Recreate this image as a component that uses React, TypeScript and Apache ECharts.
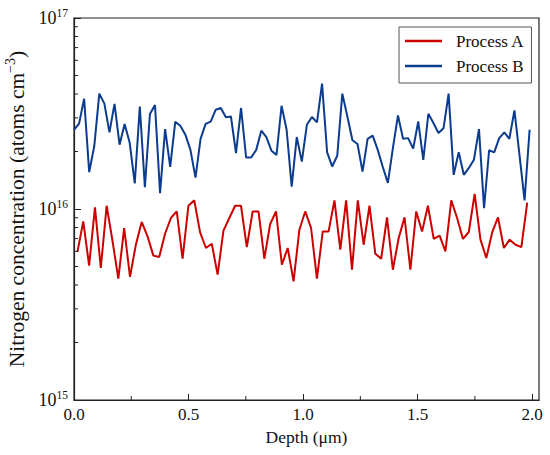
import React, { useEffect, useRef } from "react";
import * as echarts from "echarts";

// Process A (red) – nitrogen concentration, atoms cm^-3
const PROCESS_A = [
  5.96e15, 8.61e15, 5.05e15, 1.02e16, 4.91e15, 1.04e16, 6.82e15, 4.32e15, 7.95e15, 4.41e15,
  6.5e15, 8.55e15, 7.19e15, 5.7e15, 5.61e15, 7.42e15, 8.97e15, 9.71e15, 5.49e15, 1.04e16,
  1.11e16, 7.54e15, 6.25e15, 6.58e15, 4.53e15, 7.7e15, 8.97e15, 1.04e16, 1.04e16, 6.32e15,
  9.71e15, 9.71e15, 5.49e15, 8.35e15, 9.71e15, 5.11e15, 6.25e15, 4.18e15, 7.79e15, 9.71e15,
  7.95e15, 4.32e15, 7.63e15, 7.63e15, 1.11e16, 6.12e15, 1.11e16, 4.81e15, 1.11e16, 6.5e15,
  1.04e16, 5.83e15, 5.49e15, 9.04e15, 4.81e15, 7.05e15, 9.04e15, 4.81e15, 9.71e15, 7.63e15,
  1.04e16, 6.97e15, 7.25e15, 6.0e15, 1.11e16, 8.97e15, 6.97e15, 7.58e15, 1.2e16, 6.91e15,
  5.54e15, 7.54e15, 9.04e15, 6.25e15, 6.91e15, 6.5e15, 6.32e15, 1.08e16,
];

// Process B (blue)
const PROCESS_B = [
  2.6e16, 2.8e16, 3.78e16, 1.56e16, 2.13e16, 4.02e16, 3.56e16, 2.52e16, 3.55e16, 2.17e16,
  2.79e16, 2.22e16, 1.36e16, 3.44e16, 1.3e16, 3.14e16, 3.5e16, 1.21e16, 2.62e16, 1.66e16,
  2.86e16, 2.73e16, 2.45e16, 2.04e16, 1.46e16, 2.33e16, 2.79e16, 2.87e16, 3.31e16, 3.38e16,
  3.02e16, 3.05e16, 1.96e16, 3.38e16, 1.86e16, 1.86e16, 2.04e16, 2.57e16, 2.38e16, 2.02e16,
  1.92e16, 3.47e16, 2.6e16, 1.31e16, 2.38e16, 1.77e16, 2.76e16, 3.03e16, 2.84e16, 4.53e16,
  1.98e16, 1.67e16, 1.9e16, 4.02e16, 3.05e16, 2.29e16, 2.19e16, 1.57e16, 2.33e16, 2.42e16,
  2.04e16, 1.66e16, 1.37e16, 2.09e16, 3.09e16, 2.33e16, 2.35e16, 2.07e16, 2.87e16, 1.81e16,
  3.15e16, 2.82e16, 2.5e16, 2.65e16, 4.02e16, 1.51e16, 1.98e16, 1.51e16, 1.64e16, 1.81e16,
  2.62e16, 1.01e16, 2.03e16, 1.98e16, 2.35e16, 2.52e16, 2.33e16, 3.28e16, 1.92e16, 1.11e16,
  2.6e16,
];

// depth sampling (µm): start and spacing of each measurement grid
const DEPTH_A_START = 0.015;
const DEPTH_A_STEP = 0.0255;
const DEPTH_B_START = 0.0;
const DEPTH_B_STEP = 0.0221;

const X_TICKS = [0, 0.5, 1.0, 1.5, 2.0];
const X_MINOR = [0.25, 0.75, 1.25, 1.75];
const Y_TICKS = [1e15, 1e16, 1e17];
const Y_MINOR = [
  2e15, 3e15, 4e15, 5e15, 6e15, 7e15, 8e15, 9e15,
  2e16, 3e16, 4e16, 5e16, 6e16, 7e16, 8e16, 9e16,
];
const X_MIN = 0;
const X_MAX = 2.03;
const Y_MIN = 1e15;
const Y_MAX = 1e17;

const FONT = "Liberation Serif";
const AXIS_COLOR = "#222";
const TEXT_COLOR = "#111";

export default function App() {
  const ref = useRef<HTMLDivElement>(null);

  useEffect(() => {
    if (!ref.current) return;
    const chart = echarts.init(ref.current, null, { renderer: "svg" });

    const dataA = PROCESS_A.map((v, i) => [DEPTH_A_START + i * DEPTH_A_STEP, v]);
    const dataB = PROCESS_B.map((v, i) => [DEPTH_B_START + i * DEPTH_B_STEP, v]);

    const option = {
      animation: false,
      backgroundColor: "#fff",
      textStyle: { fontFamily: FONT },
      grid: {
        left: 74,
        right: 11,
        top: 18,
        bottom: 55,
        show: true,
        containLabel: false,
        outerBoundsMode: "none",
        borderColor: AXIS_COLOR,
        borderWidth: 1.2,
        backgroundColor: "transparent",
      },
      legend: {
        left: 399,
        top: 27,
        orient: "vertical",
        data: ["Process A", "Process B"],
        icon: "rect",
        itemWidth: 37,
        itemHeight: 2.5,
        itemGap: 5,
        padding: [4, 7, 7, 6],
        borderColor: "#555",
        borderWidth: 1,
        backgroundColor: "#fff",
        textStyle: {
          fontFamily: FONT,
          fontSize: 17,
          color: TEXT_COLOR,
          lineHeight: 20,
          padding: [0, 0, 0, 9],
        },
      },
      xAxis: {
        type: "value",
        min: X_MIN,
        max: X_MAX,
        axisLine: { show: true, lineStyle: { color: AXIS_COLOR, width: 1.2 } },
        axisTick: {
          show: true,
          inside: true,
          length: 6,
          customValues: X_TICKS,
          lineStyle: { color: AXIS_COLOR, width: 1 },
        },
        axisLabel: {
          customValues: X_TICKS,
          formatter: (v: number) => v.toFixed(1),
          fontFamily: FONT,
          fontSize: 17,
          color: TEXT_COLOR,
          margin: 6,
        },
        splitLine: { show: false },
        name: "Depth (μm)",
        nameLocation: "middle",
        nameGap: 27,
        nameTextStyle: { fontFamily: FONT, fontSize: 17.5, color: TEXT_COLOR },
      },
      yAxis: {
        type: "log",
        logBase: 10,
        min: Y_MIN,
        max: Y_MAX,
        axisLine: { show: true, lineStyle: { color: AXIS_COLOR, width: 1.2 } },
        axisTick: {
          show: true,
          inside: true,
          length: 7,
          customValues: Y_TICKS,
          lineStyle: { color: AXIS_COLOR, width: 1 },
        },
        axisLabel: {
          customValues: Y_TICKS,
          formatter: (v: number) => `{b|10}{s|${Math.round(Math.log10(v))}}`,
          margin: 6,
          rich: {
            b: { fontFamily: FONT, fontSize: 18, color: TEXT_COLOR },
            s: { fontFamily: FONT, fontSize: 11.5, color: TEXT_COLOR, padding: [0, 0, 10, 0] },
          },
        },
        splitLine: { show: false },
        name: "Nitrogen concentration (atoms cm{s|−3})",
        nameLocation: "middle",
        nameGap: 43,
        nameRotate: 90,
        nameTextStyle: {
          fontFamily: FONT,
          fontSize: 21.5,
          color: TEXT_COLOR,
          rich: {
            s: { fontFamily: FONT, fontSize: 14, color: TEXT_COLOR, padding: [0, 0, 12, 0] },
          },
        },
      },
      series: [
        {
          name: "Process A",
          type: "line",
          data: dataA,
          showSymbol: false,
          symbol: "none",
          color: "#CC0000",
          lineStyle: { color: "#CC0000", width: 2 },
          z: 3,
        },
        {
          name: "Process B",
          type: "line",
          data: dataB,
          showSymbol: false,
          symbol: "none",
          color: "#0B3C8F",
          lineStyle: { color: "#0B3C8F", width: 2 },
          z: 3,
        },
        {
          type: "custom",
          silent: true,
          z: 4,
          data: Y_MINOR.map((v) => [X_MIN, v]),
          renderItem: (_p: any, api: any) => {
            const p = api.coord([api.value(0), api.value(1)]);
            return {
              type: "line",
              shape: { x1: p[0], y1: p[1], x2: p[0] + 4, y2: p[1] },
              style: { stroke: AXIS_COLOR, lineWidth: 1 },
            };
          },
        },
        {
          type: "custom",
          silent: true,
          z: 4,
          data: X_MINOR.map((v) => [v, Y_MIN]),
          renderItem: (_p: any, api: any) => {
            const p = api.coord([api.value(0), api.value(1)]);
            return {
              type: "line",
              shape: { x1: p[0], y1: p[1], x2: p[0], y2: p[1] - 4 },
              style: { stroke: AXIS_COLOR, lineWidth: 1 },
            };
          },
        },
      ],
    };

    chart.setOption(option as any);
    return () => chart.dispose();
  }, []);

  return (
    <div
      ref={ref}
      style={{ position: "fixed", left: 0, top: 0, width: 550, height: 455, background: "#fff" }}
    />
  );
}
